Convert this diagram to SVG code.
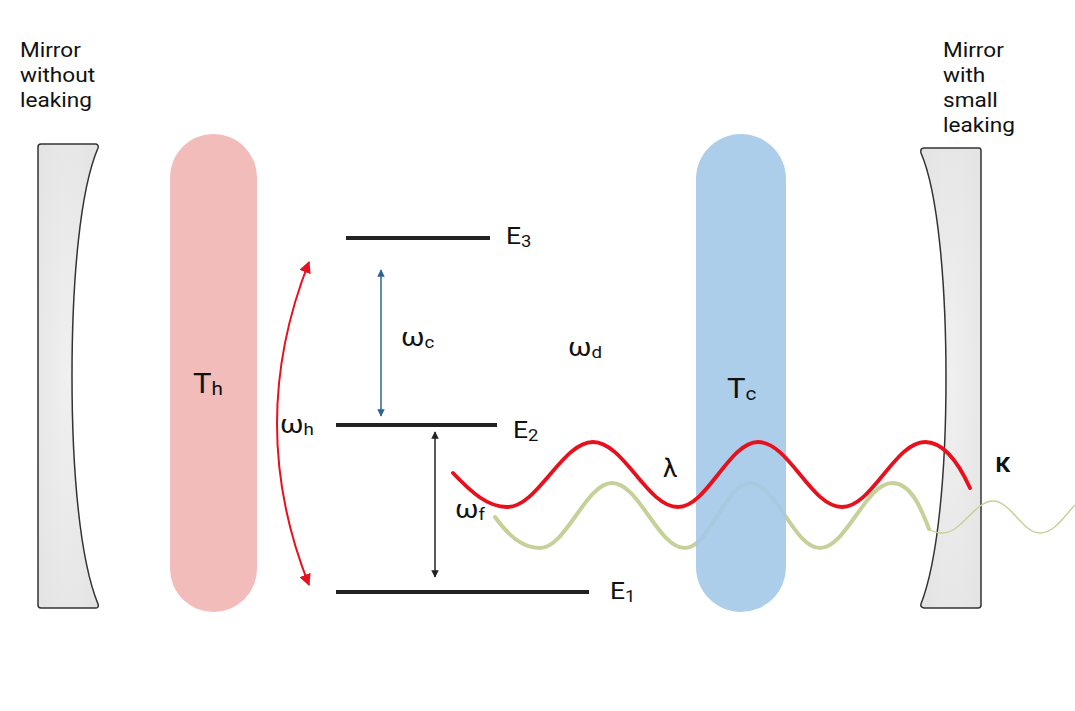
<svg xmlns="http://www.w3.org/2000/svg" width="1075" height="711" viewBox="0 0 1075 711">
<defs>
<radialGradient id="mg" cx="0.5" cy="0.5" r="0.7">
<stop offset="0" stop-color="#f0f0f0"/>
<stop offset="1" stop-color="#e3e3e3"/>
</radialGradient>
<marker id="ar" viewBox="0 0 10 10" refX="9" refY="5" markerWidth="6" markerHeight="6" markerUnits="strokeWidth" orient="auto-start-reverse">
<path d="M0,0 L10,5 L0,10 Z" fill="#e8101c"/>
</marker>
<marker id="ab" viewBox="0 0 10 10" refX="9" refY="5" markerWidth="6" markerHeight="5" markerUnits="strokeWidth" orient="auto-start-reverse">
<path d="M0,0 L10,5 L0,10 Z" fill="#2f6394"/>
</marker>
<marker id="ak" viewBox="0 0 10 10" refX="9" refY="5" markerWidth="6" markerHeight="5" markerUnits="strokeWidth" orient="auto-start-reverse">
<path d="M0,0 L10,5 L0,10 Z" fill="#222"/>
</marker>
</defs>
<style>
text{font-family:Roboto,"Liberation Sans",sans-serif;fill:#111}
.lbl{font-size:20px}
.mir{fill:url(#mg);stroke:#333;stroke-width:1.5}
.lvl{stroke:#222;stroke-width:4;fill:none}
.t{font-size:27px}
.ts{font-size:18px}
.w{font-size:26px}
.ws{font-size:17px}
.e{font-size:23px}
.es{font-size:16px}
</style>
<g id="mirror-left">
<path class="mir" d="M38,147 Q38,144 41,144 L96,144 Q99,145 98,148 C80,190 72,280 72,376 C72,472 80,560 98,604 Q99,608 96,608 L41,608 Q38,608 38,605 Z"/>
<text class="lbl" transform="translate(20,57) scale(1.13,1)">Mirror</text>
<text class="lbl" transform="translate(20,82) scale(1.13,1)">without</text>
<text class="lbl" transform="translate(20,107) scale(1.13,1)">leaking</text>
</g>
<g id="mirror-right">
<path class="mir" d="M924,148 L979,148 Q981,148 981,151 L981,605 Q981,608 978,608 L924,608 Q920,607 921,604 C938,560 946,472 946,378 C946,284 938,192 921,153 Q920,148 924,148 Z"/>
<text class="lbl" transform="translate(943,57) scale(1.13,1)">Mirror</text>
<text class="lbl" transform="translate(943,82) scale(1.13,1)">with</text>
<text class="lbl" transform="translate(943,107) scale(1.13,1)">small</text>
<text class="lbl" transform="translate(943,132) scale(1.13,1)">leaking</text>
</g>
<g id="Th">
<rect x="170" y="134" width="87" height="478" rx="43.5" fill="#f2bcba"/>
<text class="t" transform="translate(193,393) scale(1.15,1)">T<tspan class="ts" dy="2">h</tspan></text>
</g>
<g id="waves-green">
<path d="M495,517 C508,535 522,548 540,548 C566,548 586,483 612,483 C639,483 658,548 685,548 C709,548 726,483 750,483 C776,483 794,548 820,548 C846,548 866,483 892,483 C910,483 920,505 929,529" fill="none" stroke="#c5d198" stroke-width="4" stroke-linecap="round"/>
<path d="M929,529 C933,532 938,533 943,533 C961,533 975,501 993,501 C1011,501 1022,533 1040,533 C1055,533 1065,515 1075,505" fill="none" stroke="#c5d198" stroke-width="1.5"/>
</g>
<g id="Tc">
<rect x="696" y="134" width="90" height="478" rx="45" fill="#a3c9e8" fill-opacity="0.9"/>
<text class="t" transform="translate(727,398) scale(1.15,1)">T<tspan class="ts" dy="2">c</tspan></text>
</g>
<g id="levels">
<g id="E3">
<line class="lvl" x1="346" y1="238" x2="490" y2="238"/>
<text class="e" transform="translate(506,244) scale(1.15,1)">E<tspan class="es" dy="3">3</tspan></text>
</g>
<g id="E2">
<line class="lvl" x1="336" y1="425" x2="497" y2="425"/>
<text class="e" transform="translate(513,438) scale(1.15,1)">E<tspan class="es" dy="3">2</tspan></text>
</g>
<g id="E1">
<line class="lvl" x1="336" y1="592" x2="589" y2="592"/>
<text class="e" transform="translate(610,599) scale(1.15,1)">E<tspan class="es" dy="3">1</tspan></text>
</g>
</g>
<g id="connectors">
<path d="M309,262 Q245,424 309,585" fill="none" stroke="#e8101c" stroke-width="2" marker-start="url(#ar)" marker-end="url(#ar)"/>
<line x1="381" y1="270" x2="381" y2="416" stroke="#2f6394" stroke-width="1.5" marker-start="url(#ab)" marker-end="url(#ab)"/>
<line x1="435" y1="432" x2="435" y2="577" stroke="#222" stroke-width="1.5" marker-start="url(#ak)" marker-end="url(#ak)"/>
</g>
<g id="wave-red">
<path d="M453,473 C472,493 488,507 507,507 C538,507 562,442 593,442 C624,442 647,507 678,507 C707,507 729,442 758,442 C789,442 811,507 842,507 C872,507 895,442 925,442 C945,442 960,466 970,488" fill="none" stroke="#e8101c" stroke-width="3.8" stroke-linecap="round"/>
</g>
<g id="labels">
<text class="w" transform="translate(280,433) scale(1.1,1)">ω<tspan class="ws" dy="2">h</tspan></text>
<text class="w" transform="translate(401,346) scale(1.1,1)">ω<tspan class="ws" dy="2">c</tspan></text>
<text class="w" transform="translate(568,356) scale(1.1,1)">ω<tspan class="ws" dy="2">d</tspan></text>
<text class="w" transform="translate(455,518) scale(1.1,1)">ω<tspan class="ws" dy="2">f</tspan></text>
<text style="font-size:25px" transform="translate(663,477) scale(1.05,1)">λ</text>
<text style="font-size:28px;font-weight:500" transform="translate(995,472)">κ</text>
</g>
</svg>
